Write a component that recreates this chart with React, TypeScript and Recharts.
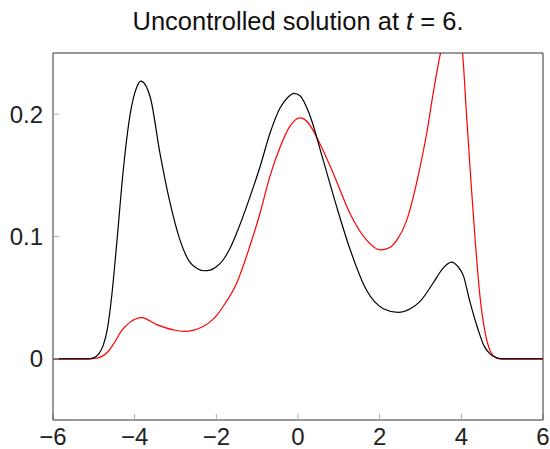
import { LineChart, Line, XAxis, YAxis } from "recharts";

// black curve
const blackX = [-6, -5.5, -5.15, -5.0, -4.88, -4.77, -4.67, -4.56, -4.44, -4.28, -4.11, -3.95, -3.85, -3.62, -3.38, -3.13, -2.89, -2.65, -2.45, -2.3, -2.15, -2.0, -1.83, -1.67, -1.5, -1.18, -0.93, -0.69, -0.44, -0.24, -0.1, 0.05, 0.28, 0.62, 0.95, 1.27, 1.68, 2.09, 2.45, 2.75, 2.99, 3.31, 3.55, 3.76, 3.9, 4.05, 4.2, 4.4, 4.55, 4.7, 4.85, 5.0, 5.5, 6];
const blackY = [0, 0, 0, 0.001, 0.004, 0.011, 0.024, 0.052, 0.094, 0.154, 0.2, 0.222, 0.227, 0.214, 0.168, 0.127, 0.097, 0.079, 0.0735, 0.072, 0.0725, 0.0752, 0.081, 0.09, 0.103, 0.132, 0.157, 0.184, 0.205, 0.214, 0.217, 0.215, 0.2, 0.162, 0.124, 0.09, 0.056, 0.041, 0.038, 0.041, 0.047, 0.062, 0.074, 0.079, 0.076, 0.068, 0.048, 0.025, 0.011, 0.004, 0.001, 0, 0, 0];

// red curve
const redX = [-6, -5.5, -5.1, -4.95, -4.8, -4.65, -4.5, -4.32, -4.11, -3.83, -3.46, -3.05, -2.8, -2.55, -2.35, -2.16, -1.98, -1.83, -1.5, -1.18, -0.93, -0.69, -0.44, -0.2, 0.05, 0.25, 0.46, 0.86, 1.27, 1.68, 2.01, 2.25, 2.42, 2.66, 2.82, 2.99, 3.15, 3.31, 3.49, 3.65, 3.8, 3.93, 4.03, 4.13, 4.24, 4.35, 4.46, 4.58, 4.7, 4.85, 5.0, 5.5, 6];
const redY = [0, 0, 0, 0.0005, 0.002, 0.006, 0.013, 0.023, 0.03, 0.0337, 0.028, 0.0237, 0.0225, 0.0235, 0.026, 0.03, 0.036, 0.043, 0.062, 0.092, 0.119, 0.149, 0.173, 0.19, 0.197, 0.193, 0.181, 0.152, 0.119, 0.097, 0.089, 0.091, 0.097, 0.113, 0.132, 0.157, 0.184, 0.217, 0.25, 0.27, 0.28, 0.272, 0.25, 0.198, 0.143, 0.092, 0.05, 0.022, 0.007, 0.001, 0, 0, 0];

const xTicks = [-6, -4, -2, 0, 2, 4, 6];
const yTicks = [0, 0.1, 0.2];

const blackData = blackX.map((x, i) => ({ x, y: blackY[i] }));
const redData = redX.map((x, i) => ({ x, y: redY[i] }));

const font = "Liberation Sans, Arial, sans-serif";
const tickStyle = { fill: "#222", fontSize: 24, fontFamily: font };
const frame = { stroke: "#333", strokeWidth: 1 };
const tickLn = { stroke: "#aaa", strokeWidth: 1 };

const fmtX = (v: number) => (v < 0 ? `\u2212${-v}` : `${v}`);

export default function App() {
  return (
    <div style={{ position: "absolute", left: 0, top: 0, width: 550, height: 449, background: "#fff" }}>
      <div
        style={{
          position: "absolute",
          left: 53,
          width: 490,
          top: 9,
          textAlign: "center",
          fontFamily: font,
          fontSize: 25.5,
          lineHeight: "25px",
          color: "#111",
        }}
      >
        Uncontrolled solution at <i>t</i> = 6.
      </div>
      <LineChart width={550} height={449} margin={{ top: 52, right: 6, bottom: 0, left: 0 }}>
        <XAxis
          dataKey="x"
          type="number"
          domain={[-6, 6]}
          ticks={xTicks}
          height={29}
          tickSize={-6}
          tickMargin={14}
          tickFormatter={fmtX}
          tick={tickStyle}
          axisLine={frame}
          tickLine={tickLn}
          allowDataOverflow
        />
        <XAxis
          xAxisId="top"
          orientation="top"
          type="number"
          domain={[-6, 6]}
          ticks={xTicks}
          height={1}
          tickSize={-6}
          tick={false}
          axisLine={frame}
          tickLine={tickLn}
        />
        <YAxis
          type="number"
          domain={[-0.05, 0.25]}
          ticks={yTicks}
          width={53}
          tickSize={-6}
          tickMargin={16}
          tick={tickStyle}
          axisLine={frame}
          tickLine={tickLn}
          allowDataOverflow
        />
        <YAxis
          yAxisId="right"
          orientation="right"
          type="number"
          domain={[-0.05, 0.25]}
          ticks={yTicks}
          width={1}
          tickSize={-6}
          tick={false}
          axisLine={frame}
          tickLine={tickLn}
        />
        <Line
          data={redData}
          dataKey="y"
          type="monotone"
          stroke="#ff0000"
          strokeWidth={1.2}
          dot={false}
          isAnimationActive={false}
        />
        <Line
          data={blackData}
          dataKey="y"
          type="monotone"
          stroke="#000"
          strokeWidth={1.2}
          dot={false}
          isAnimationActive={false}
        />
      </LineChart>
    </div>
  );
}
